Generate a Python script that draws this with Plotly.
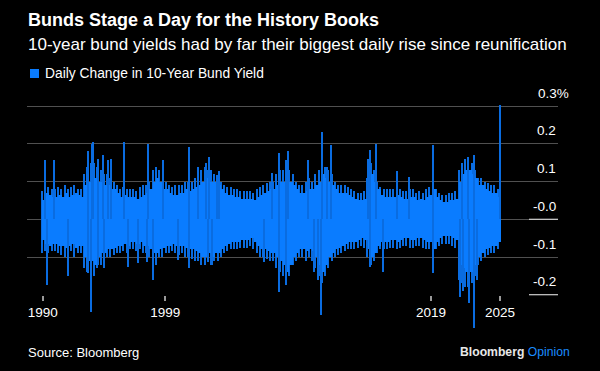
import plotly.graph_objects as go

# ---------------- data ----------------
years = list(range(1990, 2026))
# Dense band per quarter (1990Q1 ... 2025Q1): edges of the solid area, in %
band_hi = [
    0.05, 0.07, 0.065, 0.06,    # 1990
    0.06, 0.065, 0.06, 0.07,    # 1991
    0.06, 0.065, 0.07, 0.065,   # 1992
    0.06, 0.09, 0.10, 0.11,     # 1993
    0.11, 0.10, 0.10, 0.09,     # 1994
    0.09, 0.08, 0.08, 0.07,     # 1995
    0.06, 0.065, 0.06, 0.06,    # 1996
    0.06, 0.055, 0.06, 0.065,   # 1997
    0.07, 0.08, 0.10, 0.11,     # 1998
    0.10, 0.08, 0.08, 0.07,     # 1999
    0.065, 0.065, 0.07, 0.07,   # 2000
    0.08, 0.075, 0.08, 0.085,   # 2001
    0.09, 0.10, 0.11, 0.10,     # 2002
    0.10, 0.10, 0.09, 0.08,     # 2003
    0.07, 0.065, 0.065, 0.06,   # 2004
    0.06, 0.055, 0.055, 0.055,  # 2005
    0.055, 0.05, 0.06, 0.065,   # 2006
    0.07, 0.075, 0.08, 0.08,    # 2007
    0.09, 0.10, 0.10, 0.11,     # 2008
    0.10, 0.09, 0.08, 0.07,     # 2009
    0.07, 0.075, 0.08, 0.08,    # 2010
    0.09, 0.10, 0.12, 0.11,     # 2011
    0.10, 0.09, 0.08, 0.07,     # 2012
    0.07, 0.07, 0.065, 0.06,    # 2013
    0.055, 0.05, 0.05, 0.055,   # 2014
    0.08, 0.12, 0.10, 0.08,     # 2015
    0.065, 0.06, 0.06, 0.06,    # 2016
    0.06, 0.065, 0.06, 0.055,   # 2017
    0.055, 0.06, 0.06, 0.05,    # 2018
    0.055, 0.05, 0.06, 0.065,   # 2019
    0.08, 0.06, 0.05, 0.045,    # 2020
    0.045, 0.05, 0.05, 0.055,   # 2021
    0.10, 0.12, 0.13, 0.13,     # 2022
    0.12, 0.11, 0.09, 0.09,     # 2023
    0.08, 0.075, 0.07, 0.07,    # 2024
    0.06,                       # 2025Q1
]
band_lo = [
    -0.055, -0.065, -0.07, -0.065,   # 1990
    -0.065, -0.07, -0.07, -0.075,    # 1991
    -0.07, -0.065, -0.075, -0.07,    # 1992
    -0.07, -0.10, -0.11, -0.11,      # 1993
    -0.12, -0.10, -0.09, -0.09,      # 1994
    -0.08, -0.08, -0.075, -0.07,     # 1995
    -0.07, -0.065, -0.07, -0.06,     # 1996
    -0.06, -0.065, -0.06, -0.07,     # 1997
    -0.07, -0.08, -0.09, -0.09,      # 1998
    -0.08, -0.075, -0.07, -0.07,     # 1999
    -0.065, -0.07, -0.07, -0.07,     # 2000
    -0.075, -0.08, -0.08, -0.085,    # 2001
    -0.09, -0.10, -0.10, -0.09,      # 2002
    -0.10, -0.09, -0.09, -0.08,      # 2003
    -0.07, -0.065, -0.06, -0.06,     # 2004
    -0.06, -0.055, -0.055, -0.055,   # 2005
    -0.05, -0.06, -0.07, -0.08,      # 2006
    -0.08, -0.085, -0.09, -0.09,     # 2007
    -0.10, -0.11, -0.12, -0.14,      # 2008
    -0.12, -0.10, -0.09, -0.08,      # 2009
    -0.08, -0.085, -0.08, -0.085,    # 2010
    -0.10, -0.12, -0.14, -0.12,      # 2011
    -0.10, -0.09, -0.08, -0.075,     # 2012
    -0.07, -0.065, -0.06, -0.06,     # 2013
    -0.06, -0.055, -0.05, -0.055,    # 2014
    -0.08, -0.10, -0.09, -0.07,      # 2015
    -0.06, -0.06, -0.06, -0.055,     # 2016
    -0.055, -0.06, -0.055, -0.05,    # 2017
    -0.05, -0.055, -0.055, -0.05,    # 2018
    -0.05, -0.055, -0.06, -0.06,     # 2019
    -0.08, -0.06, -0.05, -0.045,     # 2020
    -0.045, -0.045, -0.05, -0.055,   # 2021
    -0.12, -0.13, -0.14, -0.14,      # 2022
    -0.14, -0.12, -0.10, -0.09,      # 2023
    -0.08, -0.075, -0.07, -0.07,     # 2024
    -0.06,                           # 2025Q1
]
# Typical recurring spike heights beyond the dense band, per quarter
fringe_hi = [
    0.075, 0.09, 0.085, 0.08,   0.08, 0.085, 0.08, 0.09,    0.08, 0.085, 0.09, 0.08,
    0.08, 0.12, 0.14, 0.15,     0.15, 0.14, 0.13, 0.12,     0.12, 0.11, 0.10, 0.09,
    0.08, 0.085, 0.08, 0.08,    0.08, 0.075, 0.085, 0.09,   0.09, 0.10, 0.13, 0.14,
    0.13, 0.10, 0.10, 0.09,     0.085, 0.09, 0.09, 0.09,    0.10, 0.10, 0.10, 0.11,
    0.12, 0.13, 0.14, 0.13,     0.13, 0.12, 0.11, 0.10,     0.09, 0.085, 0.085, 0.08,
    0.08, 0.075, 0.075, 0.075,  0.075, 0.07, 0.08, 0.085,   0.09, 0.095, 0.10, 0.10,
    0.12, 0.13, 0.13, 0.14,     0.13, 0.12, 0.10, 0.09,     0.09, 0.10, 0.11, 0.10,
    0.12, 0.13, 0.15, 0.14,     0.13, 0.12, 0.10, 0.09,     0.09, 0.09, 0.085, 0.08,
    0.075, 0.07, 0.07, 0.075,   0.11, 0.15, 0.13, 0.10,     0.085, 0.08, 0.08, 0.08,
    0.08, 0.085, 0.08, 0.075,   0.075, 0.08, 0.08, 0.07,    0.075, 0.07, 0.08, 0.085,
    0.10, 0.08, 0.07, 0.065,    0.065, 0.07, 0.07, 0.075,   0.13, 0.15, 0.16, 0.16,
    0.15, 0.13, 0.11, 0.11,     0.10, 0.095, 0.09, 0.09,    0.08,
]
fringe_lo = [
    -0.09, -0.085, -0.09, -0.085,   -0.085, -0.09, -0.095, -0.10,  -0.09, -0.085, -0.10, -0.09,
    -0.09, -0.13, -0.14, -0.15,     -0.15, -0.13, -0.12, -0.11,    -0.10, -0.10, -0.095, -0.09,
    -0.09, -0.085, -0.09, -0.08,    -0.08, -0.085, -0.08, -0.09,   -0.09, -0.10, -0.12, -0.12,
    -0.10, -0.10, -0.09, -0.09,     -0.085, -0.09, -0.095, -0.09,  -0.10, -0.10, -0.105, -0.11,
    -0.11, -0.12, -0.12, -0.11,     -0.12, -0.11, -0.11, -0.10,    -0.09, -0.085, -0.08, -0.08,
    -0.08, -0.075, -0.075, -0.075,  -0.07, -0.08, -0.09, -0.10,    -0.10, -0.105, -0.11, -0.11,
    -0.13, -0.14, -0.15, -0.17,     -0.15, -0.12, -0.11, -0.10,    -0.10, -0.11, -0.10, -0.11,
    -0.13, -0.15, -0.17, -0.15,     -0.13, -0.11, -0.10, -0.095,   -0.09, -0.085, -0.08, -0.08,
    -0.08, -0.075, -0.07, -0.075,   -0.10, -0.12, -0.11, -0.09,    -0.08, -0.08, -0.08, -0.075,
    -0.075, -0.08, -0.075, -0.07,   -0.07, -0.075, -0.075, -0.07,  -0.07, -0.075, -0.08, -0.08,
    -0.10, -0.08, -0.07, -0.065,    -0.065, -0.065, -0.07, -0.075, -0.16, -0.17, -0.18, -0.18,
    -0.17, -0.15, -0.12, -0.11,     -0.10, -0.095, -0.09, -0.09,   -0.08,
]

# Individual daily spikes (decimal year, change in %)
spike_up_t = [1990.27, 1990.90, 1993.51, 1993.86, 1993.94, 1994.32, 1994.71, 1995.09,
              1995.30, 1996.32, 1998.12, 1999.32, 2001.31, 2001.96, 2002.60, 2002.85,
              2003.42, 2003.62, 2007.66, 2008.23, 2008.74, 2008.92, 2010.45, 2011.50,
              2011.87, 2012.22, 2015.04, 2015.19, 2015.65, 2017.24, 2018.21, 2020.03,
              2022.26, 2022.69, 2023.16, 2025.18]
spike_up_v = [0.157, 0.157, 0.18, 0.20, 0.205, 0.16, 0.17, 0.157,
              0.16, 0.205, 0.20, 0.157, 0.193, 0.14, 0.15, 0.166,
              0.118, 0.127, 0.124, 0.175, 0.157, 0.18, 0.157, 0.231,
              0.14, 0.197, 0.16, 0.184, 0.20, 0.127, 0.113, 0.197,
              0.15, 0.166, 0.17, 0.302]
spike_dn_t = [1990.38, 1991.97, 1993.51, 1993.76, 1994.28, 1994.76, 1996.58, 1997.35,
              1998.04, 1998.50, 2000.42, 2001.27, 2002.73, 2003.06, 2007.07, 2008.23,
              2008.74, 2010.89, 2011.20, 2011.45, 2015.19, 2016.21, 2020.05, 2022.10,
              2022.31, 2022.82, 2023.16, 2023.41]
spike_dn_v = [-0.174, -0.15, -0.143, -0.245, -0.12, -0.13, -0.126, -0.117,
              -0.113, -0.161, -0.108, -0.13, -0.112, -0.121, -0.112, -0.192,
              -0.174, -0.14, -0.16, -0.254, -0.126, -0.139, -0.143, -0.205,
              -0.19, -0.223, -0.289, -0.16]

x_tick_vals = [1990.05, 1999.47, 2019.88, 2025.18]
x_tick_text = ["1990", "1999", "2019", "2025"]
y_grid_vals = [0.3, 0.2, 0.1, 0.0, -0.1]
y_label_vals = [0.3, 0.2, 0.1, 0.0, -0.1, -0.2]
y_label_text = ["0.3%", "0.2", "0.1", "-0.0", "-0.1", "-0.2"]

# ---------------- figure ----------------
BLUE = "#0a7cff"
BLUE_THIN = "#0a6ce0"
W, H = 600, 371
ML, MR, MT, MB = 27, 42, 95, 36
PW, PH = W - ML - MR, H - MT - MB
FONT = "Liberation Sans, Arial, sans-serif"

def px_x(p):
    return (p - ML) / PW

def px_y(p):
    return (H - MB - p) / PH

q_start = []
for y in years:
    for q in range(4):
        q_start.append(y + q / 4)
q_start = q_start[:len(band_hi)]
q_mid = [s + 0.125 for s in q_start]

fig = go.Figure()
# fringe spikes (thin), at quarter starts
fig.add_trace(go.Bar(
    x=q_start, y=[h - l for h, l in zip(fringe_hi, fringe_lo)], base=fringe_lo, width=0.09,
    marker=dict(color=BLUE_THIN, line=dict(width=0)), showlegend=False, hoverinfo="skip"))
# dense band
fig.add_trace(go.Bar(
    x=q_mid, y=[h - l for h, l in zip(band_hi, band_lo)], base=band_lo,
    width=0.25, marker=dict(color=BLUE, line=dict(width=0)),
    name="Daily Change in 10-Year Bund Yield", showlegend=False, hoverinfo="skip"))
fig.add_trace(go.Bar(
    x=spike_up_t, y=spike_up_v, base=0, width=0.08,
    marker=dict(color=BLUE_THIN, line=dict(width=0)), showlegend=False, hoverinfo="skip"))
fig.add_trace(go.Bar(
    x=spike_dn_t, y=spike_dn_v, base=0, width=0.08,
    marker=dict(color=BLUE_THIN, line=dict(width=0)), showlegend=False, hoverinfo="skip"))

y_top = 0.3297
y_bot = -0.3069
x_left = 1988.848
x_right = x_left + PW / 13.02

fig.update_layout(
    width=W, height=H, margin=dict(l=ML, r=MR, t=MT, b=MB),
    paper_bgcolor="#000000", plot_bgcolor="#000000",
    barmode="overlay", bargap=0, showlegend=False,
    font=dict(family=FONT, color="#ffffff"),
    xaxis=dict(range=[x_left, x_right], showgrid=False, zeroline=False, showline=False,
               tickvals=x_tick_vals, ticktext=x_tick_text, ticks="outside", ticklen=5,
               tickwidth=1.5, tickcolor="#9a9a9a",
               tickfont=dict(size=13.5, color="#ffffff", family=FONT),
               anchor="free", position=(H - MB - 295) / PH, fixedrange=True),
    yaxis=dict(range=[y_bot, y_top], tickvals=y_grid_vals, showticklabels=False,
               showgrid=True, gridcolor="#505050", gridwidth=1.2, zeroline=False,
               showline=False, ticks="", fixedrange=True),
)

annotations = []
for v, t in zip(y_label_vals, y_label_text):
    annotations.append(dict(
        x=1, xref="paper", y=v, yref="y", text=t, showarrow=False,
        xanchor="right", yanchor="middle", yshift=13,
        xshift=12.7 if t.endswith("%") else 0,
        font=dict(size=13.5, color="#ffffff", family=FONT)))

annotations += [
    dict(x=px_x(25.5), y=px_y(20), xref="paper", yref="paper", xanchor="left", yanchor="middle",
         text="<b>Bunds Stage a Day for the History Books</b>", showarrow=False,
         font=dict(size=18, color="#ffffff", family=FONT)),
    dict(x=px_x(26), y=px_y(44), xref="paper", yref="paper", xanchor="left", yanchor="middle",
         text="10-year bund yields had by far their biggest daily rise since reunification",
         showarrow=False, font=dict(size=17, color="#ffffff", family=FONT)),
    dict(x=px_x(43), y=px_y(73.5), xref="paper", yref="paper", xanchor="left", yanchor="middle",
         text="Daily Change in 10-Year Bund Yield", showarrow=False,
         font=dict(size=13.8, color="#ffffff", family=FONT)),
    dict(x=px_x(25.5), y=px_y(352), xref="paper", yref="paper", xanchor="left", yanchor="middle",
         text="Source: Bloomberg", showarrow=False,
         font=dict(size=13, color="#ffffff", family=FONT)),
    dict(x=px_x(572), y=px_y(352), xref="paper", yref="paper", xanchor="right", yanchor="middle",
         text="<b>Bloomberg</b> <span style='color:#1a8cff'>Opinion</span>", showarrow=False,
         font=dict(size=12.2, color="#e8e8e8", family=FONT)),
]
fig.update_layout(annotations=annotations)

shapes = [
    dict(type="rect", xref="paper", yref="paper", x0=px_x(30), x1=px_x(39),
         y0=px_y(78), y1=px_y(69), fillcolor=BLUE, line=dict(width=0)),
]
for v in [0.0, -0.2]:
    shapes.append(dict(type="line", xref="paper", yref="y", x0=px_x(529), x1=1, y0=v, y1=v,
                       line=dict(color="#d0d0d0", width=1.2)))
fig.update_layout(shapes=shapes)

fig.write_html("out.html", config={"displayModeBar": False},
               post_script="document.body.style.margin='0px';")
